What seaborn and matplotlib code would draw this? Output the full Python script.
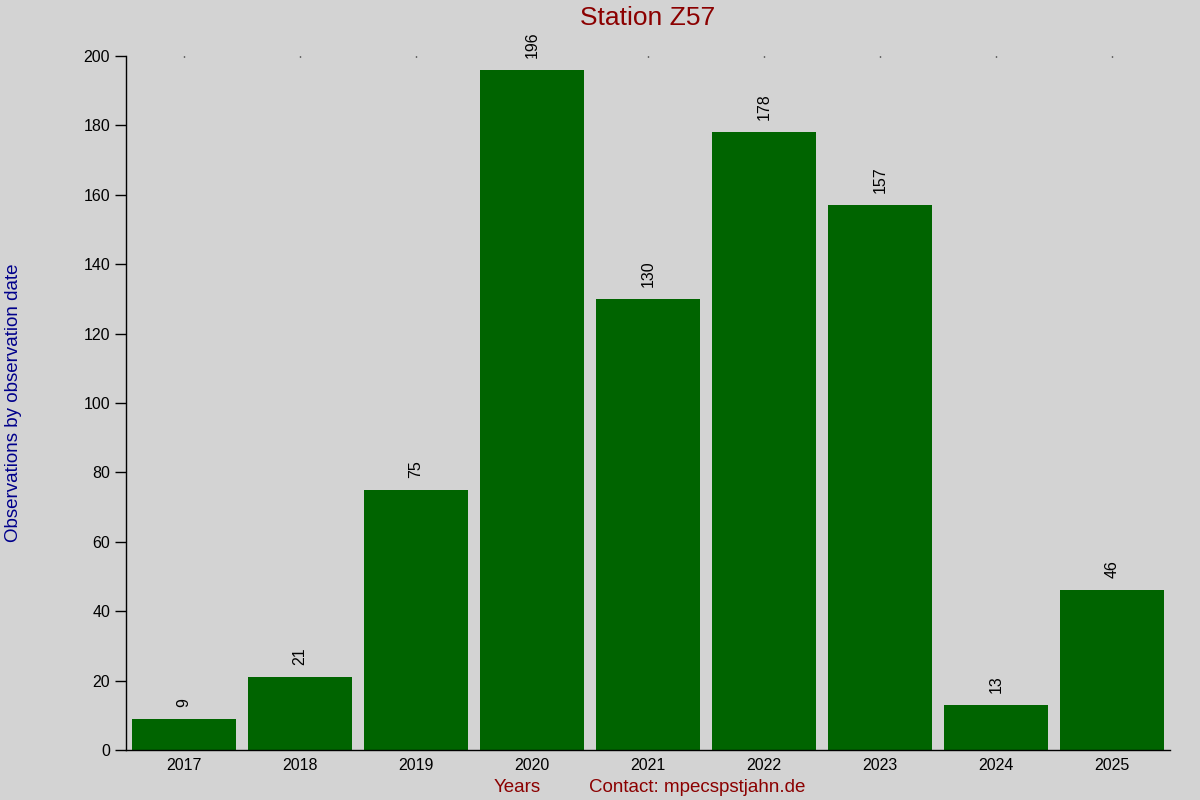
import pandas as pd
import matplotlib.pyplot as plt
import seaborn as sns

years = ["2017", "2018", "2019", "2020", "2021", "2022", "2023", "2024", "2025"]
counts = [9, 21, 75, 196, 130, 178, 157, 13, 46]

df = pd.DataFrame({"year": years, "count": counts})

sns.set_theme(style="white")
plt.rcParams['font.family'] = ['Liberation Sans', 'DejaVu Sans']

fig = plt.figure(figsize=(12, 8), dpi=100, facecolor="#D3D3D3")
ax = fig.add_axes([0.105, 0.0625, 0.87, 0.8675])
ax.set_facecolor("#D3D3D3")

sns.barplot(data=df, x="year", y="count", color="#006400", saturation=1,
            width=0.9, edgecolor="none", linewidth=0, ax=ax)

for i, v in enumerate(counts):
    ax.text(i, v + 3.5, str(v), rotation=90, ha="center", va="bottom", fontsize=11.5, color="black")

ax.set_xlim(-0.5, 8.5)
ax.set_ylim(0, 200)
ax.set_yticks(range(0, 201, 20))
for s in ["top", "right"]:
    ax.spines[s].set_visible(False)
for s in ["left", "bottom"]:
    ax.spines[s].set_color("black")
    ax.spines[s].set_linewidth(1)

ax.tick_params(axis="y", left=True, length=8, width=1, color="black", labelsize=11.5, labelcolor="black")
ax.tick_params(axis="x", bottom=False, top=True, length=1, width=1, color="black", labelsize=11.5, labelcolor="black", pad=6, direction="in")

ax.set_xlabel("")
ax.set_ylabel("Observations by observation date", color="#00008B", fontsize=13.5)
ax.yaxis.set_label_coords(-0.1, 0.5)

ax.set_title("Station Z57", color="#8B0000", fontsize=19, pad=22)
fig.text(0.431, 0.01, "Years", color="#8B0000", fontsize=13.5, ha="center")
fig.text(0.581, 0.01, "Contact: mpecspstjahn.de", color="#8B0000", fontsize=13.5, ha="center")

fig.savefig("out.png", dpi=100, facecolor="#D3D3D3")
